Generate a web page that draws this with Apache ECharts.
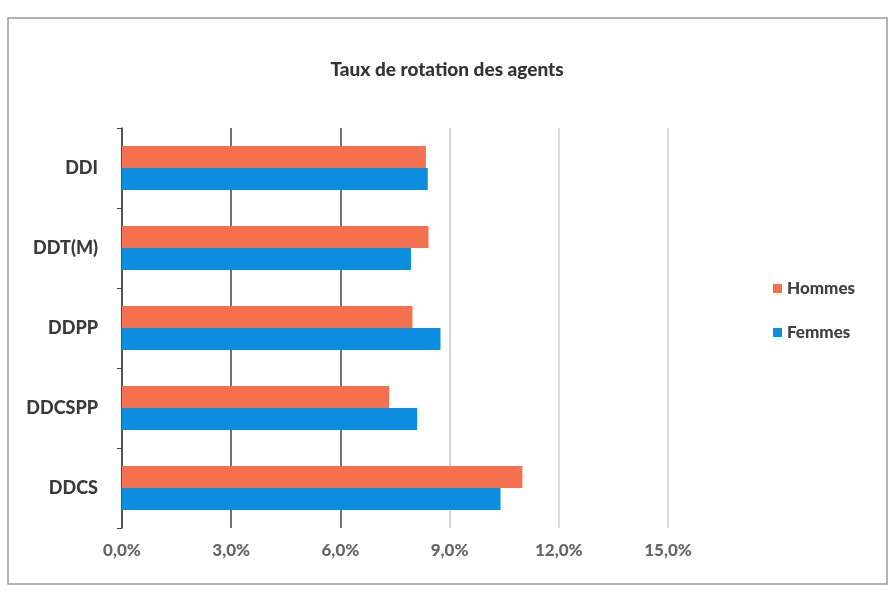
<!DOCTYPE html>
<html>
<head>
    <meta charset="utf-8">
    <script src="https://cdn.jsdelivr.net/npm/echarts@6/dist/echarts.min.js"></script>
</head>
<body style="margin:0;background:#fff">
    <div id="chart_rotation" style="width: 894px;height: 591px;"></div>
    <script type="text/javascript">
        // données (en %)
        var categories = ['DDCS', 'DDCSPP', 'DDPP', 'DDT(M)', 'DDI'];
        var hommes = [11.0, 7.34, 7.98, 8.42, 8.35];
        var femmes = [10.4, 8.11, 8.75, 7.94, 8.4];
        var xTicks = [0, 3, 6, 9, 12, 15];

        var myChart = echarts.init(document.getElementById('chart_rotation'));
        var font = 'Lato, "Open Sans", sans-serif';

        var option = {
            backgroundColor: '#ffffff',
            animation: false,
            title: {
                text: 'Taux de rotation des agents',
                left: 'center',
                top: 55,
                textStyle: { fontFamily: font, fontWeight: 900, fontSize: 19, color: '#333' }
            },
            legend: {
                data: ['Hommes', 'Femmes'],
                orient: 'vertical',
                left: 768,
                top: 275,
                itemWidth: 9,
                itemHeight: 9,
                itemGap: 27,
                icon: 'rect',
                textStyle: { fontFamily: font, fontWeight: 900, fontSize: 17, color: '#404040' }
            },
            grid: { left: 122, right: 226, top: 128, bottom: 63 },
            xAxis: {
                type: 'value',
                min: xTicks[0],
                max: xTicks[xTicks.length - 1],
                interval: 3,
                axisLine: { show: false },
                axisTick: { show: false },
                axisLabel: {
                    margin: 14,
                    fontFamily: font, fontWeight: 900, fontSize: 17, color: '#666',
                    formatter: function (v) { return v.toFixed(1).replace('.', ',') + '%'; }
                },
                splitLine: {
                    lineStyle: { color: ['#555', '#444', '#444', '#c8c8c8', '#d0d0d0', '#d0d0d0'], width: 1.5 }
                }
            },
            yAxis: {
                type: 'category',
                data: categories,
                axisLine: { show: true, lineStyle: { color: '#444', width: 1.5 } },
                axisTick: { show: true, length: 5, lineStyle: { color: '#444' } },
                axisLabel: {
                    margin: 24,
                    fontFamily: font, fontWeight: 900, fontSize: 18, color: '#3a3a3a'
                }
            },
            // Hommes en premier : placé au-dessus dans chaque groupe
            series: [{
                name: 'Hommes',
                type: 'bar',
                data: hommes,
                itemStyle: { color: '#f4714f' },
                barGap: '0%',
                barCategoryGap: '45%'
            }, {
                name: 'Femmes',
                type: 'bar',
                data: femmes,
                itemStyle: { color: '#0b8de0' },
                barGap: '0%',
                barCategoryGap: '45%'
            }],
            graphic: [{
                type: 'rect',
                shape: { x: 8, y: 18, width: 879, height: 566 },
                style: { fill: 'none', stroke: '#9a9a9a', lineWidth: 1.5 },
                silent: true
            }]
        };
        myChart.setOption(option);
    </script>
</body>
</html>
